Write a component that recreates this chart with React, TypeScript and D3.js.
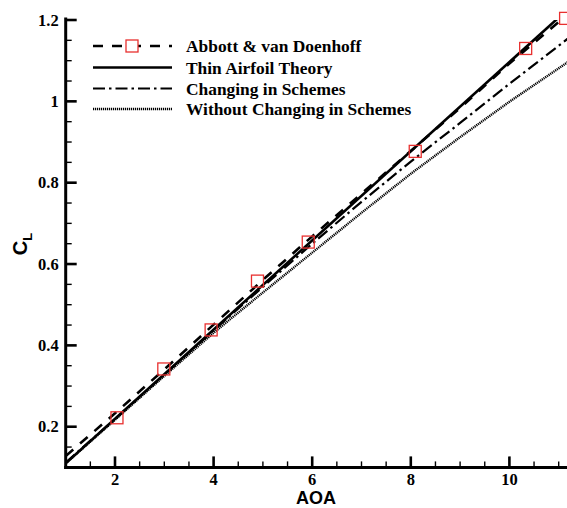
import React from "react";
import * as d3 from "d3";

const W = 567;
const H = 508;

// Abbott & van Doenhoff experimental points
const abbottAoa = [2.04, 2.99, 3.95, 4.89, 5.92, 8.09, 10.33, 11.14];
const abbottCl = [0.222, 0.342, 0.438, 0.558, 0.654, 0.877, 1.13, 1.204];

// Abbott dashed curve
const abbottLineAoa = [1, 2, 3, 4, 5, 6, 7, 8, 9, 10, 11.1];
const abbottLineCl = [0.128, 0.233, 0.341, 0.451, 0.561, 0.668, 0.773, 0.878, 0.984, 1.093, 1.205];

// Thin airfoil theory
const thinAoa = [1, 11.2];
const thinCl = [0.11, 1.228];

// Changing in schemes
const changeAoa = [1, 2, 3, 4, 5, 6, 7, 8, 9, 10, 11.3];
const changeCl = [0.112, 0.219, 0.328, 0.437, 0.544, 0.65, 0.753, 0.852, 0.947, 1.043, 1.165];

// Without changing in schemes
const withoutAoa = [1, 2, 3, 4, 5, 6, 7, 8, 9, 10, 11.3];
const withoutCl = [0.11, 0.217, 0.325, 0.431, 0.53, 0.628, 0.726, 0.822, 0.912, 0.999, 1.106];

const xMajor = [2, 4, 6, 8, 10];
const xMinor = [1.5, 2.5, 3, 3.5, 4.5, 5, 5.5, 6.5, 7, 7.5, 8.5, 9, 9.5, 10.5, 11];
const yMajor = [0.2, 0.4, 0.6, 0.8, 1.0, 1.2];
const yMajorLabels = ["0.2", "0.4", "0.6", "0.8", "1", "1.2"];
const yMinor = [0.15, 0.25, 0.3, 0.35, 0.45, 0.5, 0.55, 0.65, 0.7, 0.75, 0.85, 0.9, 0.95, 1.05, 1.1, 1.15];

const legendLabels = [
  "Abbott & van Doenhoff",
  "Thin Airfoil Theory",
  "Changing in Schemes",
  "Without Changing in Schemes",
];

const x = d3.scaleLinear().domain([1, 11]).range([65.7, 558.7]);
const y = d3.scaleLinear().domain([0.1, 1.2]).range([467.4, 20]);

const line = d3
  .line<[number, number]>()
  .x((d) => x(d[0]))
  .y((d) => y(d[1]));

const zip = (a: number[], b: number[]) => a.map((v, i) => [v, b[i]] as [number, number]);

const serif = "'Liberation Serif', 'Times New Roman', serif";
const sans = "'Liberation Sans', Arial, sans-serif";

export default function App() {
  const x0 = x(1);
  const yb = y(0.1);
  const legendRows = [46, 67.5, 88.5, 109];
  const legX1 = 93;
  const legX2 = 172;
  const styles = [
    { dash: "10,9", width: 2.6 },
    { dash: "", width: 2.6 },
    { dash: "12,4,2.5,4", width: 2.2 },
    { dash: "1.2,0.8", width: 2.4 },
  ];
  const series = [
    zip(abbottLineAoa, abbottLineCl),
    zip(thinAoa, thinCl),
    zip(changeAoa, changeCl),
    zip(withoutAoa, withoutCl),
  ];
  return (
    <svg
      width={W}
      height={H}
      style={{ position: "absolute", left: 0, top: 0, background: "#fff" }}
    >
      <defs>
        <clipPath id="plot">
          <rect x={x0} y={y(1.2)} width={W - x0} height={yb - y(1.2)} />
        </clipPath>
      </defs>
      <rect x={0} y={0} width={W} height={H} fill="#fff" />

      <g clipPath="url(#plot)">
        {series.map((s, i) => (
          <path
            key={i}
            d={line(s) || ""}
            fill="none"
            stroke="#000"
            strokeWidth={styles[i].width}
            strokeDasharray={styles[i].dash || undefined}
          />
        ))}
      </g>

      {abbottAoa.map((a, i) => (
        <rect
          key={i}
          x={x(a) - 6}
          y={y(abbottCl[i]) - 6}
          width={12}
          height={12}
          fill="none"
          stroke="#e8302f"
          strokeWidth={1.3}
        />
      ))}

      {/* axes */}
      <line x1={x0} x2={x0} y1={yb + 1.5} y2={17.5} stroke="#000" strokeWidth={3} />
      <line x1={x0 - 1.5} x2={W} y1={yb} y2={yb} stroke="#000" strokeWidth={3} />

      {yMajor.map((v, i) => (
        <g key={i}>
          <line x1={x0} x2={x0 + 11} y1={y(v)} y2={y(v)} stroke="#000" strokeWidth={2.6} />
          <text
            x={x0 - 7}
            y={y(v) + 5.5}
            textAnchor="end"
            fontFamily={serif}
            fontWeight="bold"
            fontSize={16.5}
          >
            {yMajorLabels[i]}
          </text>
        </g>
      ))}
      {yMinor.map((v, i) => (
        <line key={i} x1={x0} x2={x0 + 6} y1={y(v)} y2={y(v)} stroke="#000" strokeWidth={1.4} />
      ))}
      {xMajor.map((v, i) => (
        <g key={i}>
          <line x1={x(v)} x2={x(v)} y1={yb} y2={yb - 11} stroke="#000" strokeWidth={2.6} />
          <text
            x={x(v)}
            y={484.5}
            textAnchor="middle"
            fontFamily={serif}
            fontWeight="bold"
            fontSize={16.5}
          >
            {String(v)}
          </text>
        </g>
      ))}
      {xMinor.map((v, i) => (
        <line key={i} x1={x(v)} x2={x(v)} y1={yb} y2={yb - 6} stroke="#000" strokeWidth={1.4} />
      ))}

      {/* axis titles */}
      <text
        x={316}
        y={504}
        textAnchor="middle"
        fontFamily={sans}
        fontWeight="bold"
        fontSize={18}
      >
        AOA
      </text>
      <text
        transform="translate(27,244) rotate(-90)"
        textAnchor="middle"
        fontFamily={sans}
        fontWeight="bold"
        fontSize={20}
      >
        C
        <tspan fontSize={13} dy={5}>
          L
        </tspan>
      </text>

      {/* legend */}
      {legendRows.map((ry, i) => (
        <g key={i}>
          <line
            x1={legX1}
            x2={legX2}
            y1={ry}
            y2={ry}
            stroke="#000"
            strokeWidth={styles[i].width}
            strokeDasharray={styles[i].dash || undefined}
          />
          {i === 0 && (
            <rect
              x={(legX1 + legX2) / 2 - 6.5}
              y={ry - 6}
              width={12}
              height={12}
              fill="#fff"
              stroke="#e8302f"
              strokeWidth={1.3}
            />
          )}
          <text
            x={186}
            y={ry + 6}
            fontFamily={serif}
            fontWeight="bold"
            fontSize={17.4}
          >
            {legendLabels[i]}
          </text>
        </g>
      ))}
    </svg>
  );
}
